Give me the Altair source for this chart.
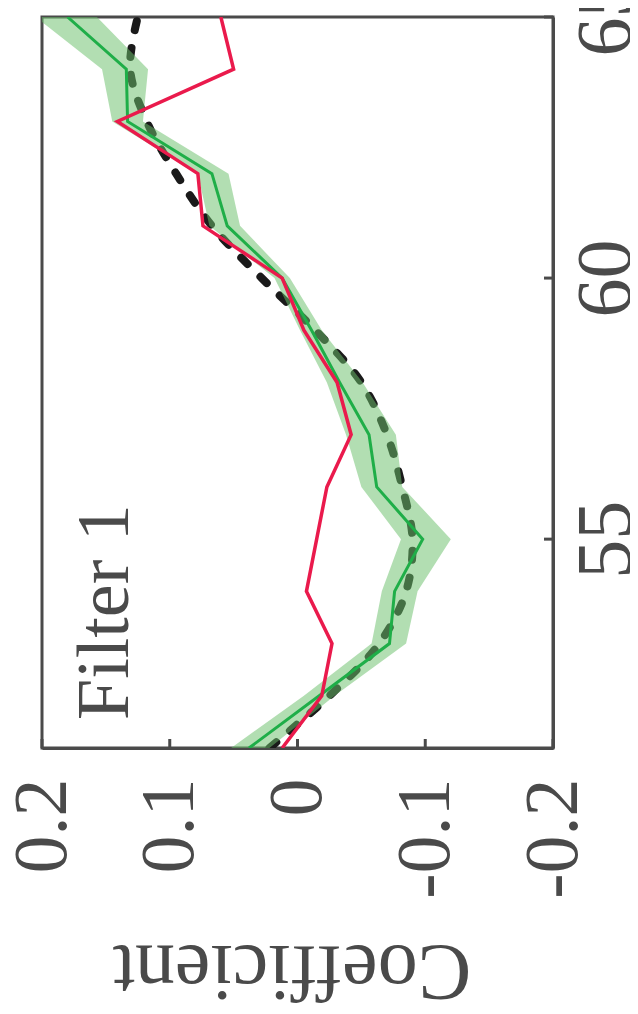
import altair as alt
import pandas as pd

# Data
years = [51, 52, 53, 54, 55, 56, 57, 58, 59, 60, 61, 62, 63, 64, 65]
red_coef = [0.012, -0.019, -0.027, -0.007, -0.015, -0.023, -0.042, -0.031, -0.005,
            0.012, 0.074, 0.078, 0.141, 0.050, 0.060]
green_coef = [0.038, -0.017, -0.072, -0.076, -0.098, -0.062, -0.056, -0.033, -0.011,
              0.012, 0.055, 0.067, 0.133, 0.134, 0.180]
band_hi = [0.052, -0.005, -0.058, -0.066, -0.081, -0.050, -0.038, -0.023, -0.002,
           0.018, 0.069, 0.078, 0.145, 0.153, 0.205]
band_lo = [0.022, -0.029, -0.085, -0.094, -0.120, -0.082, -0.077, -0.051, -0.019,
           0.006, 0.045, 0.054, 0.121, 0.117, 0.157]
black_coef = [0.022, -0.025, -0.064, -0.085, -0.090, -0.082, -0.070, -0.050, -0.014,
              0.028, 0.067, 0.095, 0.118, 0.131, 0.125]

coef_ticks = [0.2, 0.1, 0.0, -0.1, -0.2]
coef_tick_labels = ["0.2", "0.1", "0", "-0.1", "-0.2"]
year_ticks = [55, 60, 65]
panel_label = ["Filter 1"]
axis_title = "Coefficient"

W, H = 511, 731
FONT = "Liberation Serif"
GREY = "#4a4a4a"

df = pd.DataFrame({
    "year": years, "red": red_coef, "green": green_coef,
    "hi": band_hi, "lo": band_lo, "black": black_coef,
})

parts = []
for v, lab in zip(coef_ticks, coef_tick_labels):
    parts.append(f"abs(datum.value - ({v})) < 0.01 ? '{lab}'")
label_expr = " : ".join(parts) + " : ''"

xscale = alt.Scale(domain=[-0.2, 0.2], reverse=True, nice=False, zero=False)
yscale = alt.Scale(domain=[51, 65], nice=False, zero=False)

xaxis = alt.Axis(
    values=coef_ticks, labelExpr=label_expr, orient="bottom", grid=False,
    ticks=False, domain=True, domainColor=GREY, domainWidth=3,
    labelAngle=270, labelAlign="right",
    labelBaseline="middle", labelPadding=30, labelFont=FONT, labelFontSize=76,
    labelColor=GREY, title=axis_title, titleFont=FONT, titleFontSize=80,
    titleFontWeight="normal", titleColor=GREY, titleAngle=180,
    titleAlign="center", titleBaseline="alphabetic", titleY=197, titleX=W / 2 - 6,
    labelFlush=False, labelOverlap=False,
)
yaxis = alt.Axis(
    values=year_ticks, orient="right", grid=False, ticks=False,
    domain=True, domainColor=GREY, domainWidth=3,
    labelAngle=270, labelAlign="center", labelBaseline="top", labelPadding=14,
    labelFont=FONT, labelFontSize=78, labelColor=GREY, title=None,
    labelFlush=False, labelOverlap=False,
)

base = alt.Chart(df)

black = base.mark_line(
    color="#1a1a1a", strokeWidth=8, strokeDash=[9, 18], strokeCap="round",
    interpolate="catmull-rom", clip=True,
).encode(
    x=alt.X("black:Q", scale=xscale, axis=xaxis),
    y=alt.Y("year:Q", scale=yscale, axis=yaxis),
    order="year:Q",
)

band = base.mark_area(color="#6cc06c", opacity=0.52, clip=True).encode(
    x=alt.X("hi:Q", scale=xscale),
    x2="lo:Q",
    y=alt.Y("year:Q", scale=yscale),
)

green = base.mark_line(color="#1fae48", strokeWidth=3, clip=True).encode(
    x=alt.X("green:Q", scale=xscale),
    y=alt.Y("year:Q", scale=yscale),
    order="year:Q",
)

red = base.mark_line(color="#ea1a4c", strokeWidth=3.5, clip=True).encode(
    x=alt.X("red:Q", scale=xscale),
    y=alt.Y("year:Q", scale=yscale),
    order="year:Q",
)

xt = alt.Chart(pd.DataFrame({"t": coef_ticks})).mark_rule(
    color=GREY, strokeWidth=3
).encode(
    x=alt.X("t:Q", scale=xscale),
    y=alt.value(H),
    y2=alt.value(H - 9),
)

yt = alt.Chart(pd.DataFrame({"t": year_ticks})).mark_rule(
    color=GREY, strokeWidth=3
).encode(
    y=alt.Y("t:Q", scale=yscale),
    x=alt.value(W),
    x2=alt.value(W - 9),
)

label = alt.Chart(pd.DataFrame({"lab": panel_label})).mark_text(
    font=FONT, fontSize=74, color=GREY, angle=270, align="left",
    baseline="alphabetic",
).encode(
    text="lab:N",
    x=alt.value(86),
    y=alt.value(703),
)

chart = alt.layer(black, band, green, red, xt, yt, label).properties(
    width=W, height=H,
    autosize=alt.AutoSizeParams(type="none"),
    padding={"left": 34, "top": 9, "right": 77, "bottom": 258},
    background="white",
).configure_view(
    stroke=GREY, strokeWidth=3,
)

chart.save("out.html", embed_options={"renderer": "svg", "actions": False})
